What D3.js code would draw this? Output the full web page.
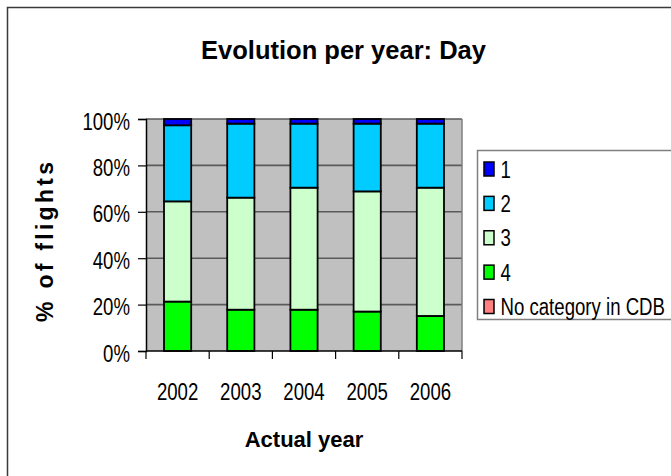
<!DOCTYPE html>
<html>
<head>
<meta charset="utf-8">
<script src="https://cdn.jsdelivr.net/npm/d3@7"></script>
<style>
  html, body { margin: 0; padding: 0; background: #ffffff; }
  svg { display: block; font-family: "Liberation Sans", Arial, sans-serif; }
</style>
</head>
<body>
<svg id="chart" width="671" height="476"></svg>
<script>
// Share of flights per category, by year (percent, stacked to 100%)
const years = ["2002", "2003", "2004", "2005", "2006"];
const seriesNames = ["1", "2", "3", "4", "No category in CDB"];
const cat1 = [2.7, 2.0, 2.0, 2.0, 2.0];
const cat2 = [32.8, 31.9, 27.6, 29.2, 27.6];
const cat3 = [43.2, 48.3, 52.6, 51.8, 55.3];
const cat4 = [21.3, 17.8, 17.8, 17.0, 15.1];
const noCategory = [0, 0, 0, 0, 0];
const seriesColors = ["#0000ff", "#00ccff", "#ccffcc", "#00ff00", "#ff8080"];
const yTicks = [0, 20, 40, 60, 80, 100];

const svg = d3.select("#chart");
const plot = { left: 146, right: 462, top: 119, bottom: 351 };

// Narrow label style: tall glyphs squeezed horizontally
const labelSize = 24.5;
const squeeze = 0.76;
const narrow = (dx, dy) => `translate(${dx},${dy}) scale(${squeeze},1)`;

// Chart frame
svg.append("rect")
  .attr("x", 7.5).attr("y", 7.5)
  .attr("width", 680).attr("height", 480)
  .attr("fill", "#ffffff")
  .attr("stroke", "#3a3a3a").attr("stroke-width", 1.5);

// Title
svg.append("text")
  .attr("x", 343.5).attr("y", 59)
  .attr("text-anchor", "middle")
  .attr("font-size", 25.5).attr("font-weight", "bold")
  .attr("fill", "#000")
  .text("Evolution per year: Day");

// Scales
const x = d3.scaleBand()
  .domain(years)
  .range([plot.left, plot.right])
  .paddingInner(0.57)
  .paddingOuter(0.285);

const y = d3.scaleLinear()
  .domain([0, 100])
  .range([plot.bottom, plot.top]);

// Plot area background
svg.append("rect")
  .attr("x", plot.left).attr("y", plot.top)
  .attr("width", plot.right - plot.left)
  .attr("height", plot.bottom - plot.top)
  .attr("fill", "#c0c0c0");

// Horizontal gridlines
svg.append("g")
  .selectAll("line")
  .data(yTicks.filter(t => t > 0))
  .join("line")
  .attr("x1", plot.left).attr("x2", plot.right)
  .attr("y1", d => y(d)).attr("y2", d => y(d))
  .attr("stroke", "#5a5a5a").attr("stroke-width", 1.6);

// Right border of plot area
svg.append("line")
  .attr("x1", plot.right).attr("x2", plot.right)
  .attr("y1", plot.top).attr("y2", plot.bottom)
  .attr("stroke", "#7f7f7f").attr("stroke-width", 1.5);

// Stacked data, bottom to top: no category, 4, 3, 2, 1
const rows = years.map((yr, i) => ({
  year: yr,
  "1": cat1[i], "2": cat2[i], "3": cat3[i], "4": cat4[i],
  "No category in CDB": noCategory[i]
}));
const stackKeys = ["No category in CDB", "4", "3", "2", "1"];
const stacked = d3.stack().keys(stackKeys)(rows);
const colorOf = d3.scaleOrdinal().domain(seriesNames).range(seriesColors);

svg.append("g")
  .selectAll("g")
  .data(stacked)
  .join("g")
  .attr("fill", d => colorOf(d.key))
  .selectAll("rect")
  .data(d => d.filter(s => s[1] - s[0] > 0))
  .join("rect")
  .attr("x", d => x(d.data.year))
  .attr("width", x.bandwidth())
  .attr("y", d => y(d[1]))
  .attr("height", d => y(d[0]) - y(d[1]))
  .attr("stroke", "#000").attr("stroke-width", 1.8);

// Y axis
const yAxis = svg.append("g")
  .attr("transform", `translate(${plot.left},0)`)
  .call(d3.axisLeft(y).tickValues(yTicks).tickFormat(d => d + "%").tickSize(8));
yAxis.select(".domain").attr("stroke", "#000").attr("stroke-width", 1.5);
yAxis.selectAll(".tick line").attr("stroke", "#000").attr("stroke-width", 1.2);
yAxis.selectAll(".tick text")
  .attr("font-family", "Liberation Sans, Arial, sans-serif")
  .attr("font-size", labelSize).attr("fill", "#000")
  .attr("x", 0).attr("dy", 0)
  .attr("transform", narrow(-16, 10));

// X axis: ticks sit on category boundaries
const xAxis = svg.append("g")
  .attr("transform", `translate(0,${plot.bottom})`);
xAxis.append("line")
  .attr("x1", plot.left).attr("x2", plot.right)
  .attr("stroke", "#000").attr("stroke-width", 1.5);
const boundaries = years.map(yr => x(yr) - x.step() * x.paddingInner() / 2)
  .concat([plot.right]);
xAxis.selectAll(".xtick")
  .data(boundaries)
  .join("line")
  .attr("class", "xtick")
  .attr("x1", d => d).attr("x2", d => d)
  .attr("y1", 0).attr("y2", 8)
  .attr("stroke", "#000").attr("stroke-width", 1.2);
xAxis.selectAll(".xlabel")
  .data(years)
  .join("text")
  .attr("class", "xlabel")
  .attr("transform", d => narrow(x(d) + x.bandwidth() / 2, 48.5))
  .attr("text-anchor", "middle")
  .attr("font-size", labelSize).attr("fill", "#000")
  .text(d => d);

// Axis titles
svg.append("text")
  .attr("x", (plot.left + plot.right) / 2).attr("y", 446.5)
  .attr("text-anchor", "middle")
  .attr("font-size", 22).attr("font-weight", "bold")
  .text("Actual year");

svg.append("text")
  .attr("transform", "translate(53,242) rotate(-90)")
  .attr("text-anchor", "middle")
  .attr("font-size", 23).attr("font-weight", "bold")
  .attr("textLength", 160).attr("lengthAdjust", "spacing")
  .text("% of flights");

// Legend
const legend = svg.append("g");
legend.append("rect")
  .attr("x", 477.5).attr("y", 150.5)
  .attr("width", 220).attr("height", 169)
  .attr("fill", "#ffffff")
  .attr("stroke", "#7f7f7f").attr("stroke-width", 1.5);
const rowY = d3.scalePoint().domain(seriesNames).range([169, 306.5]);
const items = legend.selectAll(".item")
  .data(seriesNames)
  .join("g")
  .attr("class", "item")
  .attr("transform", d => `translate(0,${rowY(d)})`);
items.append("rect")
  .attr("x", 484).attr("y", -7)
  .attr("width", 10).attr("height", 14)
  .attr("fill", d => colorOf(d))
  .attr("stroke", "#000").attr("stroke-width", 1.5);
items.append("text")
  .attr("transform", narrow(500.5, 8.5))
  .attr("font-size", labelSize).attr("fill", "#000")
  .text(d => d);
</script>
</body>
</html>
